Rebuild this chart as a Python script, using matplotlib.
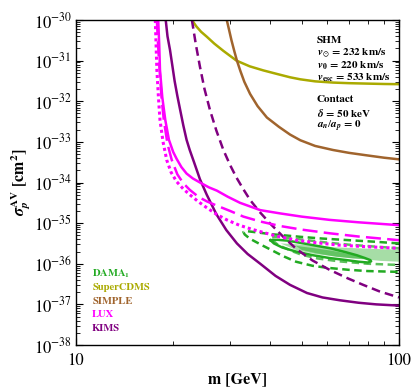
import matplotlib
matplotlib.use("Agg")
import matplotlib.pyplot as plt
from matplotlib.ticker import LogLocator, NullFormatter, FixedLocator
import numpy as np

plt.rcParams['font.family'] = 'STIXGeneral'
plt.rcParams['mathtext.fontset'] = 'stix'

# ---- data (mass in GeV, log10 sigma in cm^2) ----
cdms_m = [22.85, 23.6, 24.4, 25.4, 26.8, 28.6, 31.4, 34.5, 38.0, 42.0, 46.0, 49.5, 55.0, 62.5, 70.0, 79.2, 90.0, 100.0]
cdms_s = [-30.0, -30.16, -30.29, -30.41, -30.58, -30.76, -31.0, -31.14, -31.24, -31.33, -31.41, -31.46, -31.51, -31.54, -31.555, -31.565, -31.575, -31.58]

simple_m = [29.3, 29.8, 30.3, 30.9, 31.5, 32.3, 33.2, 34.6, 36.5, 39.0, 42.5, 46.0, 49.5, 55.0, 62.5, 70.0, 79.2, 90.0, 100.0]
simple_s = [-30.0, -30.25, -30.5, -30.76, -31.0, -31.26, -31.52, -31.82, -32.12, -32.4, -32.63, -32.82, -32.96, -33.1, -33.2, -33.27, -33.33, -33.39, -33.43]

kims_m = [18.96, 19.2, 19.55, 19.9, 20.2, 20.6, 21.0, 21.5, 22.0, 22.5, 23.2, 24.2, 25.4, 27.2, 29.2, 31.5, 34.0, 37.2, 41.5, 46.0, 51.9, 58.0, 65.7, 75.0, 85.0, 100.0]
kims_s = [-30.0, -30.4, -30.74, -31.15, -31.5, -31.87, -32.2, -32.6, -32.95, -33.2, -33.5, -33.92, -34.3, -34.78, -35.17, -35.5, -35.76, -36.0, -36.3, -36.52, -36.72, -36.83, -36.9, -36.96, -37.0, -37.03]

kims2_m = [22.85, 23.5, 24.2, 25.0, 26.0, 27.2, 28.6, 30.0, 31.4, 33.0, 34.6, 37.0, 39.8, 44.0, 48.2, 54.0, 61.0, 69.0, 77.5, 87.0, 100.0]
kims2_s = [-30.0, -30.6, -31.15, -31.7, -32.22, -32.72, -33.2, -33.57, -33.88, -34.17, -34.43, -34.72, -35.0, -35.35, -35.64, -35.92, -36.15, -36.35, -36.52, -36.68, -36.83]

lux_m = [17.97, 18.1, 18.2, 18.5, 18.9, 19.4, 20.0, 20.5, 21.2, 22.0, 23.0, 24.2, 25.8, 27.3, 29.5, 32.2, 37.2, 42.8, 50.0, 61.0, 75.0, 100.0]
lux_s = [-30.0, -30.6, -31.23, -31.9, -32.46, -32.95, -33.25, -33.42, -33.62, -33.78, -33.9, -34.0, -34.12, -34.2, -34.35, -34.5, -34.68, -34.76, -34.84, -34.92, -34.98, -35.05]

lux2_m = [17.8, 17.95, 18.15, 18.4, 18.7, 19.2, 19.8, 20.6, 21.5, 22.5, 24.0, 25.5, 27.3, 30.0, 33.0, 37.2, 42.8, 50.0, 61.0, 75.0, 100.0]
lux2_s = [-30.0, -30.6, -31.23, -31.9, -32.46, -33.05, -33.45, -33.8, -34.02, -34.18, -34.36, -34.47, -34.57, -34.7, -34.84, -34.96, -35.07, -35.16, -35.25, -35.33, -35.42]

lux3_m = [17.6, 17.7, 17.8, 18.0, 18.2, 18.6, 19.1, 19.7, 20.5, 21.5, 22.5, 24.0, 25.4, 27.2, 29.3, 32.0, 35.0, 41.8, 48.0, 55.0, 65.0, 75.0, 100.0]
lux3_s = [-30.0, -30.6, -31.23, -31.9, -32.46, -33.0, -33.45, -33.75, -33.98, -34.16, -34.3, -34.48, -34.62, -34.78, -34.92, -35.05, -35.15, -35.32, -35.42, -35.48, -35.54, -35.57, -35.62]

# DAMA contours (outline points, log10 sigma)
dama_out_m = [100.0, 85.0, 70.0, 58.0, 50.0, 44.0, 40.0, 36.5, 34.0, 33.0, 33.3, 34.5, 36.0, 38.0, 40.0, 44.0, 48.0, 54.0, 60.0, 70.0, 80.0, 100.0]
dama_out_s = [-35.5, -35.46, -35.42, -35.38, -35.34, -35.3, -35.27, -35.23, -35.2, -35.22, -35.28, -35.38, -35.46, -35.56, -35.65, -35.82, -35.95, -36.05, -36.1, -36.15, -36.18, -36.2]

dama_mid_m = [100.0, 85.0, 70.0, 60.0, 52.0, 46.0, 42.0, 40.0, 40.5, 42.0, 44.0, 47.0, 50.0, 56.0, 65.0, 80.0, 100.0]
dama_mid_s = [-35.62, -35.58, -35.53, -35.48, -35.42, -35.37, -35.33, -35.36, -35.42, -35.52, -35.6, -35.7, -35.78, -35.87, -35.94, -36.0, -36.03]

dama_ell_m = [40.0, 42.0, 45.0, 48.3, 54.0, 61.3, 68.0, 74.0, 78.5, 81.5, 82.0, 80.2, 75.0, 68.8, 61.0, 54.1, 48.0, 43.5, 41.0, 40.0]
dama_ell_s = [-35.42, -35.41, -35.43, -35.47, -35.54, -35.62, -35.71, -35.79, -35.86, -35.91, -35.94, -35.97, -35.95, -35.91, -35.86, -35.79, -35.7, -35.6, -35.5, -35.42]

dama_fill_m = [43.0, 48.0, 55.0, 65.0, 75.0, 88.0, 100.0, 100.0, 88.0, 75.0, 65.0, 55.0, 48.0, 43.0]
dama_fill_s = [-35.5, -35.52, -35.56, -35.6, -35.62, -35.64, -35.65, -35.95, -35.93, -35.88, -35.83, -35.76, -35.66, -35.5]

dama_core_m = [48.0, 55.0, 62.0, 70.0, 76.0, 78.0, 72.0, 64.0, 56.0, 50.0, 48.0]
dama_core_s = [-35.56, -35.62, -35.68, -35.76, -35.82, -35.88, -35.87, -35.83, -35.75, -35.66, -35.56]

y_decades = [1e-38, 1e-37, 1e-36, 1e-35, 1e-34, 1e-33, 1e-32, 1e-31, 1e-30]

legend_names = [r'DAMA$_\mathbf{1}$', 'SuperCDMS', 'SIMPLE', 'LUX', 'KIMS']

c_green = '#22AA22'
c_olive = '#AAAA00'
c_brown = '#A0642D'
c_mag = '#FF00FF'
c_purp = '#800080'
legend_colors = [c_green, c_olive, c_brown, c_mag, c_purp]


def pw(s):
    return [10.0 ** v for v in s]


fig = plt.figure(figsize=(4.13, 3.90), dpi=100)
ax = fig.add_axes([0.184, 0.1154, 0.782, 0.8333])

lw = 1.8
# DAMA region
ax.fill(dama_fill_m, pw(dama_fill_s), color=c_green, alpha=0.4, lw=0)
ax.fill(dama_core_m, pw(dama_core_s), color=c_green, alpha=0.5, lw=0)
ax.plot(dama_out_m, pw(dama_out_s), color=c_green, lw=lw, dashes=(3, 1.8))
ax.plot(dama_mid_m, pw(dama_mid_s), color='#5CC05C', lw=lw, dashes=(3, 1.8))
ax.plot(dama_ell_m, pw(dama_ell_s), color=c_green, lw=lw)

ax.plot(cdms_m, pw(cdms_s), color=c_olive, lw=lw)
ax.plot(simple_m, pw(simple_s), color=c_brown, lw=lw)
ax.plot(kims_m, pw(kims_s), color=c_purp, lw=lw)
ax.plot(kims2_m, pw(kims2_s), color=c_purp, lw=lw, dashes=(3.5, 2))
ax.plot(lux_m, pw(lux_s), color=c_mag, lw=lw)
ax.plot(lux2_m, pw(lux2_s), color=c_mag, lw=lw, dashes=(6, 2.5))
ax.plot(lux3_m, pw(lux3_s), color=c_mag, lw=2.2, dashes=(1, 1))

ax.set_xscale('log')
ax.set_yscale('log')
ax.set_xlim(10, 100)
ax.set_ylim(1e-38, 1e-30)

ax.yaxis.set_major_locator(FixedLocator(y_decades))
ax.yaxis.set_minor_locator(LogLocator(base=10, subs=np.arange(2, 10), numticks=20))
ax.yaxis.set_minor_formatter(NullFormatter())
ax.xaxis.set_major_locator(FixedLocator([10, 100]))
ax.xaxis.set_minor_locator(FixedLocator([20, 30, 40, 50, 60, 70, 80, 90]))
ax.xaxis.set_minor_formatter(NullFormatter())
ax.set_xticklabels(['10', '100'])

ax.tick_params(which='both', direction='in', top=True, right=True, labelsize=12)
ax.tick_params(which='major', length=5, width=0.8, pad=3)
ax.tick_params(axis='x', which='major', pad=6)
ax.tick_params(which='minor', length=3, width=0.6)
for sp in ax.spines.values():
    sp.set_linewidth(1.0)

ax.set_xlabel('m [GeV]', fontsize=11.5, fontweight='bold', labelpad=2)
ax.set_ylabel(r'$\mathbfit{\sigma}_\mathbfit{p}^{\mathbf{AV}}$ [cm$^\mathbf{2}$]',
              fontsize=11.5, fontweight='bold', labelpad=1)

# legend as coloured text
for i, (name, col) in enumerate(zip(legend_names, legend_colors)):
    ax.text(0.05, 0.218 - i * 0.0415, name, color=col, fontsize=7.6,
            fontweight='bold', transform=ax.transAxes, va='center')

# info text
info = ['SHM',
        r'$\mathbfit{v}_{\odot}$ = 232 km/s',
        r'$\mathbfit{v}_\mathbf{0}$ = 220 km/s',
        r'$\mathbfit{v}_\mathbf{esc}$ = 533 km/s',
        '',
        'Contact',
        r'$\mathbfit{\delta}$ = 50 keV',
        r'$\mathbfit{a}_\mathbfit{n}/\mathbfit{a}_\mathbfit{p}$ = 0']
ys = [0.938, 0.898, 0.859, 0.821, None, 0.754, 0.714, 0.674]
for line, yy in zip(info, ys):
    if yy is None:
        continue
    ax.text(0.745, yy, line, fontsize=8, fontweight='bold',
            transform=ax.transAxes, va='center')

fig.savefig('out.png', dpi=100)
